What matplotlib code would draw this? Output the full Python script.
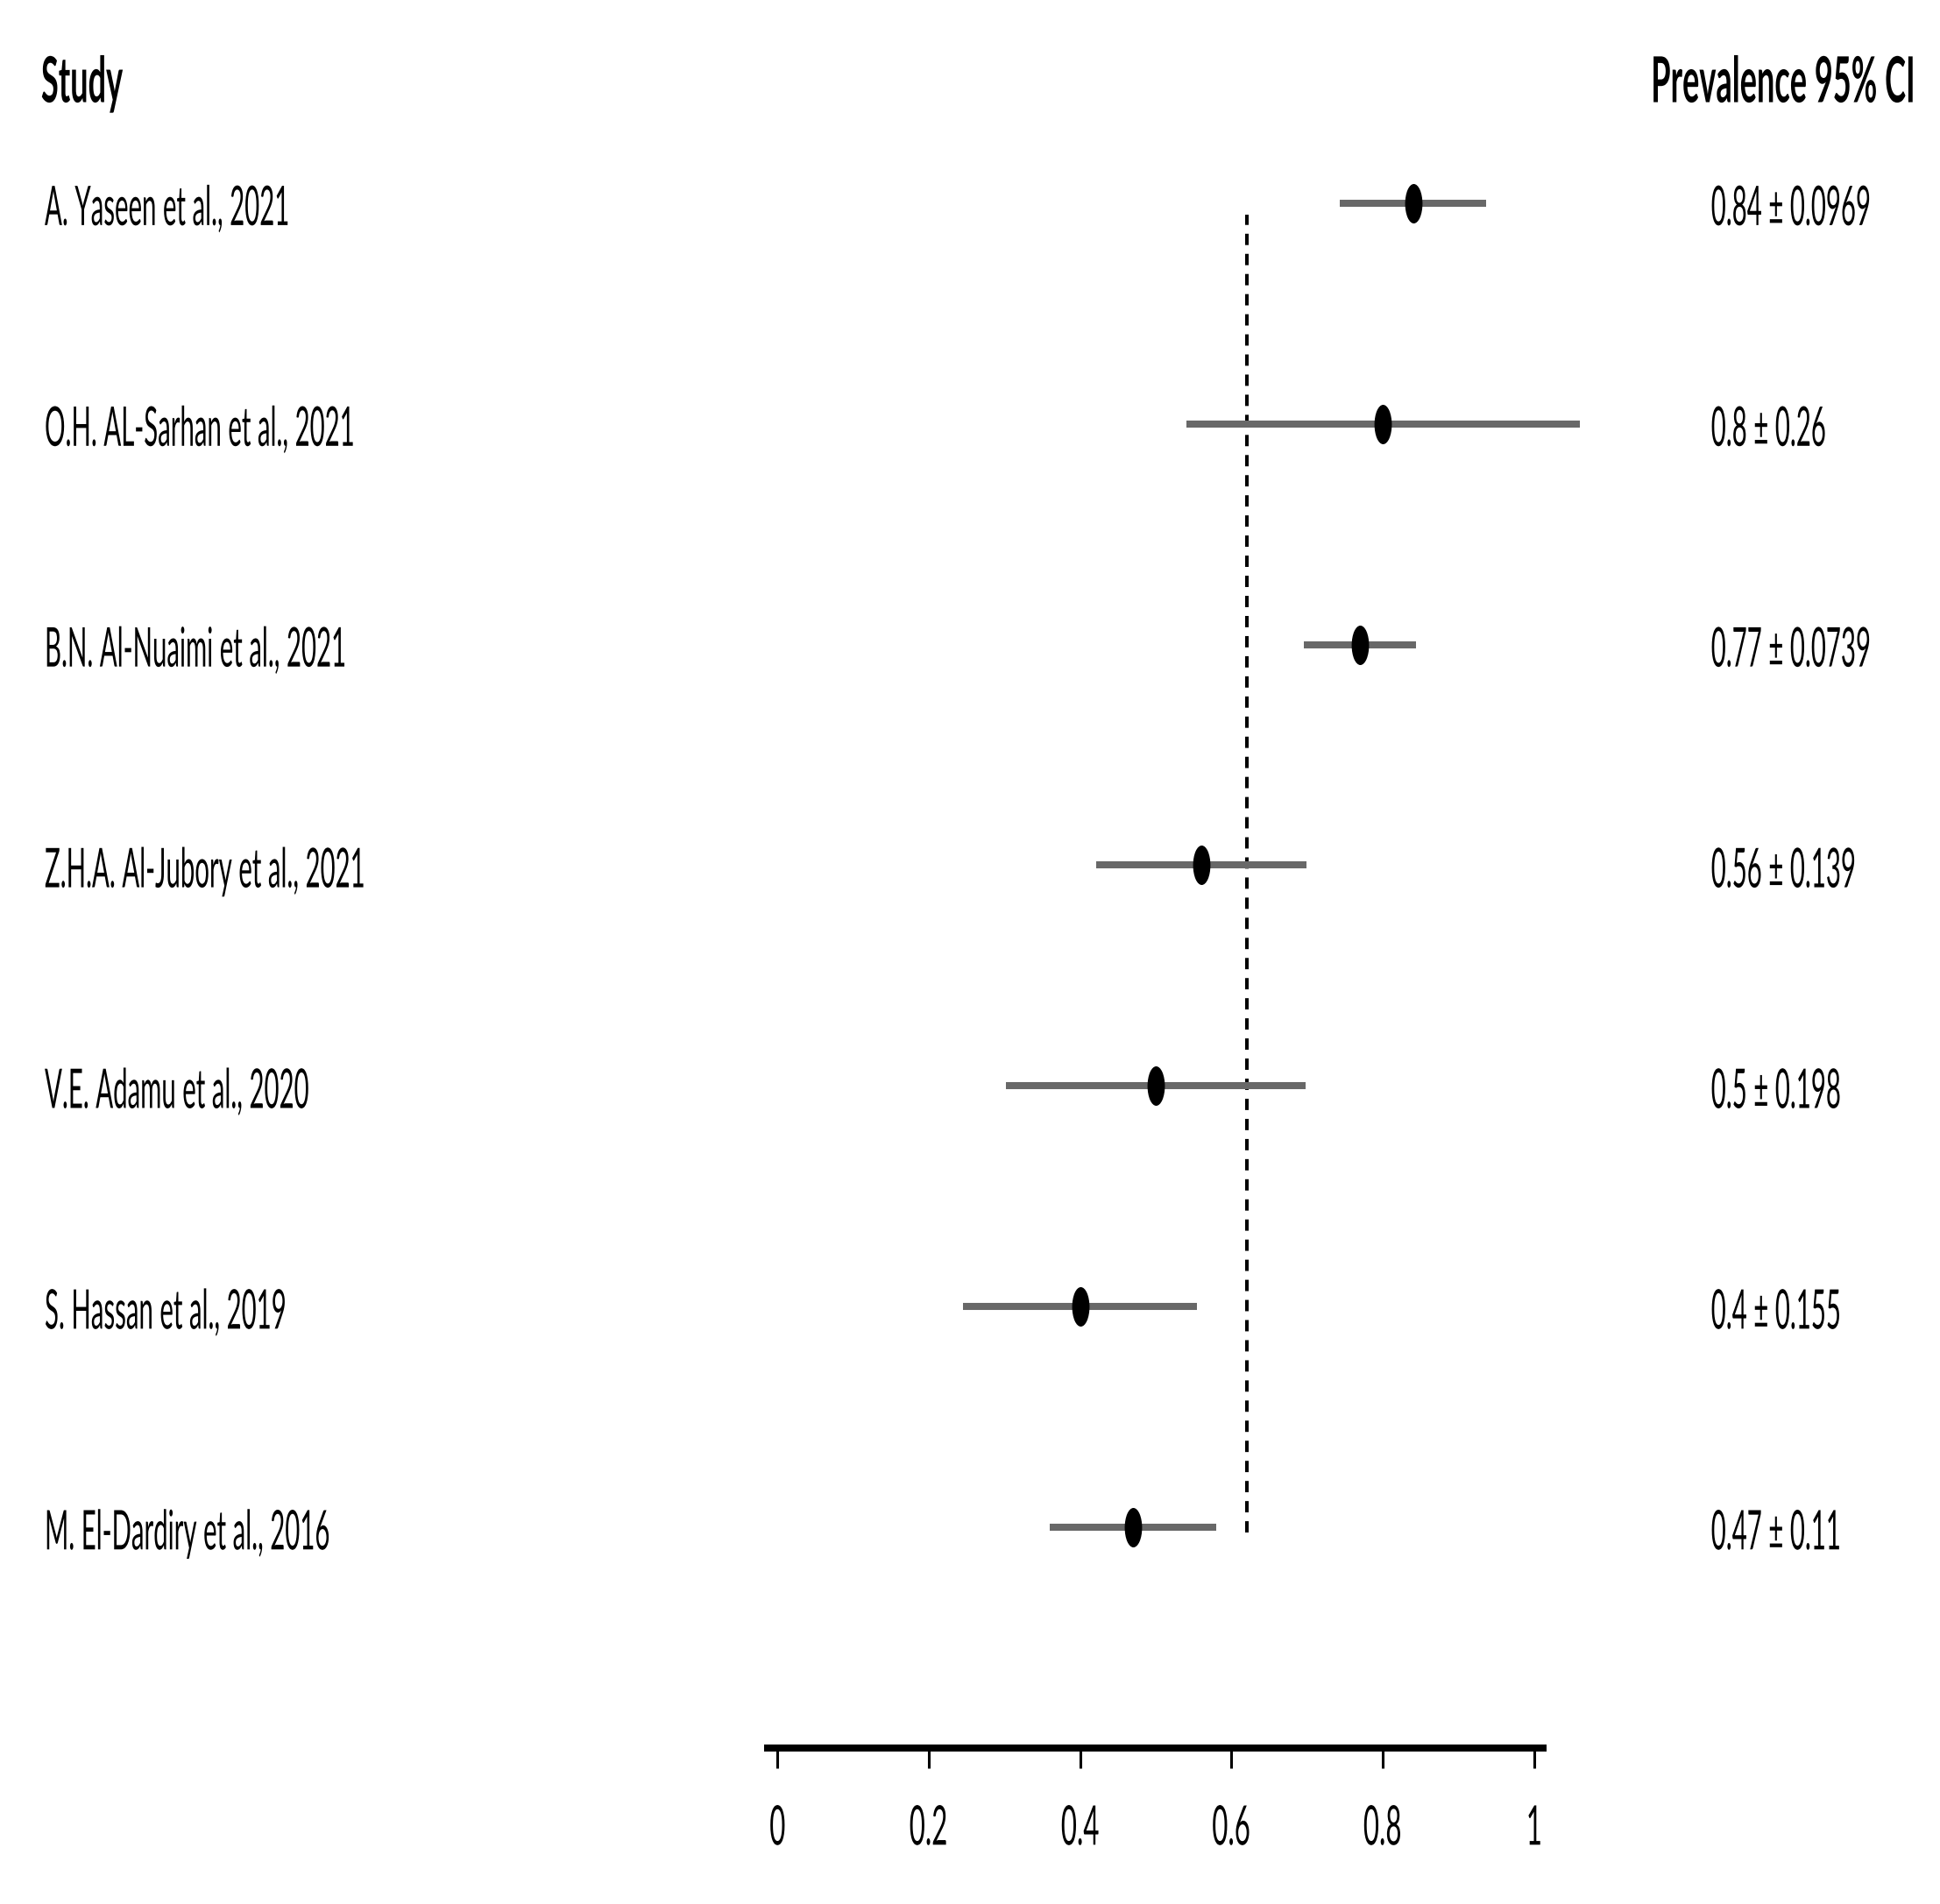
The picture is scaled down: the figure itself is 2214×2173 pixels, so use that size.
import matplotlib
matplotlib.use("Agg")
import matplotlib.pyplot as plt
from matplotlib.patheffects import AbstractPathEffect
from matplotlib.transforms import Affine2D
from matplotlib.path import Path

# ---------------- data ----------------
studies = [
    "A. Yaseen et al., 2021",
    "O.H. AL-Sarhan et al., 2021",
    "B.N. Al-Nuaimi et al., 2021",
    "Z.H.A. Al-Jubory et al., 2021",
    "V.E. Adamu et al., 2020",
    "S. Hassan et al., 2019",
    "M. El-Dardiry et al., 2016",
]
prevalence = [0.84, 0.8, 0.77, 0.56, 0.5, 0.4, 0.47]
half_ci = [0.0969, 0.26, 0.0739, 0.139, 0.198, 0.155, 0.11]
pooled = 0.62
xticks = [0, 0.2, 0.4, 0.6, 0.8, 1]
xticklabels = ["0", "0.2", "0.4", "0.6", "0.8", "1"]
header_left = "Study"
header_right = "Prevalence 95% CI"

# ---------------- helpers ----------------
# The reference's lettering is tall and narrow (a horizontally compressed image).
# Body/header text is set at its true width and stretched vertically about its
# baseline; tick labels are compressed horizontally about their centre.
SQ_BODY = 0.47
SQ_HEAD = 0.5
SQ_TICK = 0.5


class VStretch(AbstractPathEffect):
    """Stretch glyphs vertically about the text baseline."""

    def __init__(self, sy):
        super().__init__()
        self.sy = sy

    def draw_path(self, renderer, gc, tpath, affine, rgbFace=None):
        m = affine.get_matrix()
        px, py = m[0, 2], m[1, 2]
        aff = affine + Affine2D().translate(-px, -py).scale(1.0, self.sy).translate(px, py)
        renderer.draw_path(gc, tpath, aff, rgbFace)


class HSqueeze(AbstractPathEffect):
    """Compress glyphs horizontally about the centre of their ink box."""

    def __init__(self, sx):
        super().__init__()
        self.sx = sx

    def draw_path(self, renderer, gc, tpath, affine, rgbFace=None):
        ext = tpath.get_extents(affine)
        px = 0.5 * (ext.x0 + ext.x1)
        aff = affine + Affine2D().translate(-px, 0).scale(self.sx, 1.0).translate(px, 0)
        renderer.draw_path(gc, tpath, aff, rgbFace)


FONT = "Lato"
BODY_SIZE = 45 * SQ_BODY
HEAD_SIZE = 52 * SQ_HEAD

fig = plt.figure(figsize=(22.14, 21.73), dpi=100)
ax = fig.add_axes([0, 0, 1, 1])
ax.set_xlim(-1.0277, 1.5366)
ax.set_ylim(-0.7066, 7.9198)

n = len(studies)
ypos = [n - i for i in range(n)]  # top study at 7, bottom at 1

lo = [p - h for p, h in zip(prevalence, half_ci)]
hi = [p + h for p, h in zip(prevalence, half_ci)]

# confidence interval lines
ax.hlines(ypos, lo, hi, colors="#686868", linewidth=5.8, capstyle="butt", zorder=2)

# squeezed-circle markers
ell = Path.unit_circle().transformed(Affine2D().scale(0.44, 1.0))
ax.plot(prevalence, ypos, linestyle="none", marker=ell, markersize=32.4,
        markerfacecolor="black", markeredgecolor="black", markeredgewidth=0, zorder=3)

# pooled estimate dotted line
ax.plot([pooled, pooled], [0.977, 6.947], color="black", linewidth=2.9,
        linestyle=(0, (3.2, 2.5)), dash_capstyle="butt", zorder=1)

# axis
for s in ("left", "right", "top"):
    ax.spines[s].set_visible(False)
ax.spines["bottom"].set_position(("data", 0))
ax.spines["bottom"].set_bounds(-0.018, 1.0166)
ax.spines["bottom"].set_linewidth(5.8)
ax.spines["bottom"].set_capstyle("butt")
ax.set_yticks([])
ax.set_xticks(xticks)
ax.set_xticklabels(xticklabels, fontsize=45, family=FONT)
ax.tick_params(axis="x", direction="out", length=16.6, width=2.2, pad=29, color="black")
for t in ax.xaxis.get_major_ticks():
    t.label1.set_path_effects([HSqueeze(SQ_TICK)])

body_fx = [VStretch(1.0 / SQ_BODY)]
head_fx = [VStretch(1.0 / SQ_HEAD)]

# study labels and values
for y, name, p, h in zip(ypos, studies, prevalence, half_ci):
    ax.text(-0.9686, y - 0.100, name, ha="left", va="baseline",
            fontsize=BODY_SIZE, family=FONT, color="black", path_effects=body_fx)
    ax.text(1.2340, y - 0.100, f"{p:g} \u00b1 {h:g}", ha="left", va="baseline",
            fontsize=BODY_SIZE, family=FONT, color="black", path_effects=body_fx)

# headers
ax.text(-0.9733, 7.457, header_left, ha="left", va="baseline", fontsize=HEAD_SIZE,
        fontweight="bold", family=FONT, color="black", path_effects=head_fx)
ax.text(1.5040, 7.457, header_right, ha="right", va="baseline", fontsize=HEAD_SIZE,
        fontweight="bold", family=FONT, color="black", path_effects=head_fx)

fig.savefig("out.png", dpi=100, facecolor="white")
